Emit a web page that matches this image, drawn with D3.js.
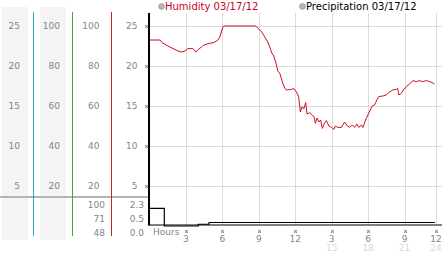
<!DOCTYPE html>
<html>
<head>
<meta charset="utf-8">
<script src="https://cdn.jsdelivr.net/npm/d3@7"></script>
<style>
body { margin: 0; background: #fff; }
svg { display: block; font-family: "DejaVu Sans", sans-serif; }
</style>
</head>
<body>
<div id="chart"></div>
<script>
// humidity readings, hour of day -> %
const hours = [0, 0.86, 1.03, 1.36, 1.85, 2.34, 2.67, 2.92, 3.16, 3.57, 3.82, 4.07, 4.48, 4.89, 5.30, 5.63, 5.79, 6.04, 6.12,
    8.75, 9.00, 9.24, 9.49, 9.74, 9.90, 10.07, 10.23, 10.39, 10.56, 10.72, 10.97, 11.13, 11.27, 11.68, 11.87, 12.10, 12.28,
    12.42, 12.56, 12.70, 12.86, 12.97, 13.19, 13.38, 13.54, 13.66, 13.79, 13.95, 14.09, 14.23, 14.42, 14.56, 14.77, 14.97,
    15.18, 15.30, 15.51, 15.79, 16.06, 16.29, 16.47, 16.70, 16.89, 17.07, 17.24, 17.44, 17.57, 17.79, 17.98, 18.18, 18.34,
    18.53, 18.72, 18.88, 19.21, 19.49, 19.76, 20.03, 20.31, 20.44, 20.53, 20.72, 20.91, 21.13, 21.41, 21.68, 21.96, 22.23,
    22.50, 22.78, 23.05, 23.27, 23.46];
const humidity = [93, 93, 91.7, 90.5, 89, 87.5, 87, 87.5, 88.7, 88.7, 87, 88.5, 90.5, 91.3, 91.7, 93, 94.5, 99.5, 100,
    100, 98.5, 97, 94.5, 92, 89.5, 86.5, 85, 82, 77.5, 76.5, 71.5, 69, 68, 68.3, 68.8, 67, 64.7,
    57, 59.7, 58.5, 61.7, 56, 56.7, 55.5, 54.7, 51.3, 54, 52, 53, 48.8, 51.7, 52.7, 50, 49.3,
    48.3, 50, 49.3, 49.3, 52, 50, 49.3, 50.5, 49.3, 51, 49.3, 50.5, 49.3, 53, 55.5, 58, 60,
    60.5, 63, 64.7, 65, 65.5, 67, 68, 68.3, 68.8, 65.5, 66.3, 68, 69.7, 71, 72.7, 72.2, 72.7,
    72.2, 72.7, 72.2, 71.7, 71];

// precipitation (step series)
const precip_hours = [0, 1.22, 4.02, 4.9, 23.5];
const precip = [1.5, 0, 0.15, 0.3, 0.3];

// axis labels
const side_ticks = [25, 20, 15, 10, 5];
const hum_ticks = [100, 80, 60, 40, 20];
const hum_stats = ["100", "71", "48"];
const precip_stats = ["2.3", "0.5", "0.0"];
const x_ticks = [3, 6, 9, 12, 15, 18, 21, 24];

const width = 442, height = 253;
const svg = d3.select("#chart").append("svg")
    .attr("width", width)
    .attr("height", height);

const x = d3.scaleLinear().domain([0, 24]).range([149.5, 441]);
const x_end = 436;
const y_side = d3.scaleLinear().domain([5, 25]).range([186, 26]);
const y_hum = d3.scaleLinear().domain([20, 100]).range([186, 26]);
const y_precip = d3.scaleLinear().domain([0, 2.3]).range([226, 199]);
const stat_y = d3.scalePoint().domain([0, 1, 2]).range([204.5, 232.5]);

const tick_x = h => Math.min(x(h), x_end);

// shaded columns
svg.append("rect").attr("x", 2).attr("y", 7).attr("width", 26).attr("height", 233).attr("fill", "#f4f4f4");
svg.append("rect").attr("x", 40).attr("y", 7).attr("width", 26).attr("height", 233).attr("fill", "#f4f4f4");

// grid
const grid = svg.append("g").attr("stroke", "#dcdcdc").attr("stroke-width", 1);
grid.selectAll("line.h").data(side_ticks).enter().append("line")
    .attr("x1", 149).attr("x2", width)
    .attr("y1", d => Math.round(y_side(d)) + 0.5).attr("y2", d => Math.round(y_side(d)) + 0.5);
grid.selectAll("line.v").data(x_ticks).enter().append("line")
    .attr("x1", d => Math.round(tick_x(d)) + 0.5).attr("x2", d => Math.round(tick_x(d)) + 0.5)
    .attr("y1", 13).attr("y2", 225);

// separator between panels
svg.append("line").attr("x1", 0).attr("x2", 149).attr("y1", 197).attr("y2", 197)
    .attr("stroke", "#b4b4b4").attr("stroke-width", 2);

// coloured axis lines
[[33.5, "#2f9fcf"], [72.5, "#3aaa3a"], [111.5, "#c02828"]].forEach(([lx, c]) => {
    svg.append("line").attr("x1", lx).attr("x2", lx).attr("y1", 12).attr("y2", 236)
        .attr("stroke", c).attr("stroke-width", 1);
});

const label_style = g => {
    g.select(".domain").remove();
    g.selectAll(".tick line").remove();
    g.selectAll(".tick text").attr("fill", "#858585").style("font-size", "9px")
        .style("font-family", "'DejaVu Sans', sans-serif");
};

svg.append("g").attr("transform", "translate(20,0)")
    .call(d3.axisLeft(y_side).tickValues(side_ticks).tickSize(0).tickPadding(0)).call(label_style);
svg.append("g").attr("transform", "translate(60,0)")
    .call(d3.axisLeft(y_hum).tickValues(hum_ticks).tickSize(0).tickPadding(0)).call(label_style);
svg.append("g").attr("transform", "translate(99.5,0)")
    .call(d3.axisLeft(y_hum).tickValues(hum_ticks).tickSize(0).tickPadding(0)).call(label_style);
svg.append("g").attr("transform", "translate(137.5,0)")
    .call(d3.axisLeft(y_side).tickValues(side_ticks).tickSize(0).tickPadding(0)).call(label_style);

// lower panel stats
svg.append("g").selectAll("text").data(hum_stats).enter().append("text")
    .attr("x", 105).attr("y", (d, i) => stat_y(i)).attr("dy", "0.35em")
    .attr("text-anchor", "end").attr("fill", "#858585").style("font-size", "9px").text(d => d);
svg.append("g").selectAll("text").data(precip_stats).enter().append("text")
    .attr("x", 144).attr("y", (d, i) => stat_y(i)).attr("dy", "0.35em")
    .attr("text-anchor", "end").attr("fill", "#858585").style("font-size", "9px").text(d => d);

// little hatched tick marks
const hatch = (cx, cy) => {
    const g = svg.append("g").attr("transform", `translate(${cx - 1},${cy - 1})`);
    [[0, 0], [2, 0], [1, 1], [0, 2], [2, 2]].forEach(([a, b]) => {
        g.append("rect").attr("x", a).attr("y", b).attr("width", 1).attr("height", 1).attr("fill", "#8c8c8c");
    });
    [[1, 0], [0, 1], [2, 1], [1, 2]].forEach(([a, b]) => {
        g.append("rect").attr("x", a).attr("y", b).attr("width", 1).attr("height", 1).attr("fill", "#d0d0d0");
    });
};
side_ticks.forEach(d => hatch(146, Math.round(y_side(d))));
x_ticks.forEach(d => hatch(Math.round(tick_x(d)), 231));

// x labels
svg.append("text").attr("x", 153).attr("y", 232).attr("dy", "0.35em")
    .attr("fill", "#858585").style("font-size", "9px").text("Hours");
svg.append("g").selectAll("text").data(x_ticks).enter().append("text")
    .attr("x", d => tick_x(d)).attr("y", 238.5).attr("dy", "0.35em").attr("text-anchor", "middle")
    .attr("fill", "#858585").style("font-size", "9px").text(d => d > 12 ? d - 12 : d);
svg.append("g").selectAll("text").data(x_ticks.filter(d => d > 12)).enter().append("text")
    .attr("x", d => tick_x(d)).attr("y", 247.5).attr("dy", "0.35em").attr("text-anchor", "middle")
    .attr("fill", "#d8d8d8").style("font-size", "9px").text(d => d);

// humidity line
svg.append("path")
    .datum(hours.map((h, i) => [h, humidity[i]]))
    .attr("fill", "none").attr("stroke", "#cc1028").attr("stroke-width", 1)
    .attr("d", d3.line().x(d => x(d[0])).y(d => y_hum(d[1])));

// precipitation step line
svg.append("path")
    .datum(precip_hours.map((h, i) => [h, precip[i]]))
    .attr("fill", "none").attr("stroke", "#000").attr("stroke-width", 1.2)
    .attr("d", d3.line().curve(d3.curveStepAfter).x(d => x(d[0])).y(d => y_precip(d[1])));

// main axes
svg.append("line").attr("x1", 149).attr("x2", 149).attr("y1", 13).attr("y2", 225.5)
    .attr("stroke", "#000").attr("stroke-width", 2);
svg.append("line").attr("x1", 149).attr("x2", width).attr("y1", 225).attr("y2", 225)
    .attr("stroke", "#000").attr("stroke-width", 1);

// legend
const legend = [
    { x: 161.5, label: "Humidity 03/17/12", color: "#c8001e" },
    { x: 302.5, label: "Precipitation 03/17/12", color: "#000" }
];
legend.forEach(l => {
    svg.append("circle").attr("cx", l.x).attr("cy", 6.5).attr("r", 2.8)
        .attr("fill", "#b8b8b8").attr("stroke", "#8c8c8c").attr("stroke-width", 0.8);
    svg.append("text").attr("x", l.x + 3.5).attr("y", 10).attr("fill", l.color)
        .style("font-size", "10px").text(l.label);
});
</script>
</body>
</html>
